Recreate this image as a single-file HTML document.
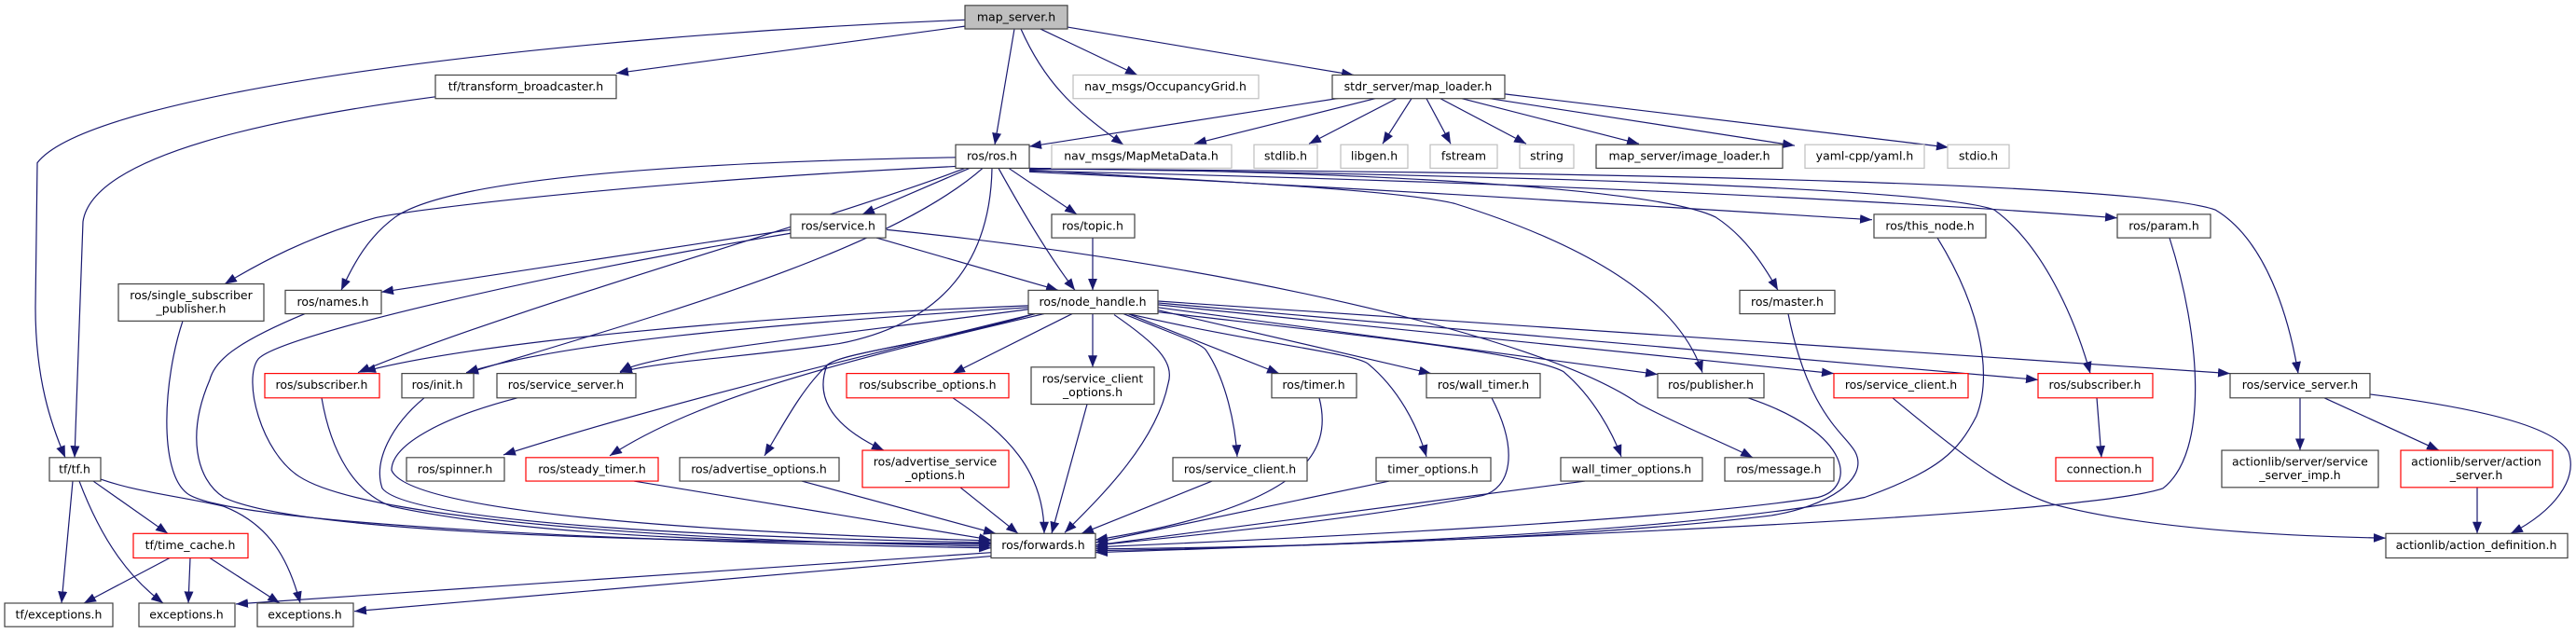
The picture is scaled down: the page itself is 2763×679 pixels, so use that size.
<!DOCTYPE html>
<html><head><meta charset="utf-8"><style>
html,body{margin:0;padding:0;background:#fff;}
svg{display:block;}
text{font-family:"DejaVu Sans","Liberation Sans",sans-serif;font-size:12.5px;fill:#000;}
</style></head><body>
<svg width="2763" height="679" viewBox="0 0 2763 679" xmlns="http://www.w3.org/2000/svg">
<defs>
<marker id="a" markerUnits="userSpaceOnUse" markerWidth="14" markerHeight="10" refX="13" refY="5" orient="auto">
<path d="M0,0 L13,5 L0,10 Z" fill="#191970"/>
</marker>
</defs>
<g transform="scale(1,0.97)">
<g fill="none" stroke="#191970" stroke-width="1.2" marker-end="url(#a)">
<path d="M1035,22 C600,40 100,100 40,180 L38,340 C38,420 55,470 70,506"/>
<path d="M1035,29 L661,81"/>
<path d="M1088,32 L1067,160"/>
<path d="M1095,32 C1120,90 1150,120 1205,160"/>
<path d="M1116,32 L1220,83"/>
<path d="M1145,30 L1452,83"/>
<path d="M467,107 C300,130 100,170 89,245 L80,506"/>
<path d="M1440,108 L1104,162"/>
<path d="M1475,109 L1281,159"/>
<path d="M1498,109 L1404,159"/>
<path d="M1514,109 L1483,159"/>
<path d="M1530,109 L1556,159"/>
<path d="M1545,109 L1637,159"/>
<path d="M1568,109 L1758,159"/>
<path d="M1598,109 L1925,161"/>
<path d="M1614,104 L2090,163"/>
<path d="M1040,186 L925,237"/>
<path d="M1082,186 L1155,237"/>
<path d="M1071,186 C1100,240 1130,290 1153,321"/>
<path d="M1025,174 C700,180 480,200 424,240 C395,262 380,290 366,321"/>
<path d="M1025,184 C700,200 450,230 402,241 C330,262 280,290 241,314"/>
<path d="M1035,186 C900,240 550,340 384,412"/>
<path d="M1054,186 C950,280 700,350 500,413"/>
<path d="M1064,186 C1062,300 1000,360 900,380 C800,395 700,400 665,412"/>
<path d="M1104,188 C1300,200 1500,210 1560,225 C1700,270 1800,330 1826,412"/>
<path d="M1104,186 C1500,190 1780,210 1840,240 C1870,260 1890,290 1907,321"/>
<path d="M1104,190 C1500,210 1800,230 2008,243"/>
<path d="M1104,189 C1600,200 2000,220 2271,241"/>
<path d="M1104,186 C1700,195 2080,210 2139,232 C2190,270 2225,350 2242,413"/>
<path d="M1104,187 C1800,190 2300,205 2376,232 C2430,265 2455,350 2465,413"/>
<path d="M848,254 L409,323"/>
<path d="M940,263 L1135,321"/>
<path d="M848,258 C600,300 300,370 277,397 C260,420 280,500 321,527 C400,580 800,600 1063,604"/>
<path d="M951,254 C1300,290 1650,370 1757,446 C1800,470 1850,490 1880,506"/>
<path d="M1172,263 L1172,321"/>
<path d="M1103,338 C800,350 500,380 390,411"/>
<path d="M1103,340 C800,360 600,380 500,412"/>
<path d="M1103,342 C900,370 700,390 665,411"/>
<path d="M1110,347 C900,400 700,450 540,503"/>
<path d="M1120,347 C900,400 750,440 654,504"/>
<path d="M1110,347 C1000,380 900,390 887,404 C860,430 840,470 820,504"/>
<path d="M1110,347 C1000,380 900,390 887,404 C870,450 910,480 948,498"/>
<path d="M1150,347 L1022,413"/>
<path d="M1172,347 L1172,406"/>
<path d="M1195,348 C1240,380 1260,400 1253,424 C1240,490 1180,550 1142,589"/>
<path d="M1205,347 C1260,370 1290,380 1294,388 C1315,420 1325,470 1327,505"/>
<path d="M1210,347 L1372,413"/>
<path d="M1210,347 C1350,380 1450,390 1467,402 C1500,430 1520,470 1530,505"/>
<path d="M1242,343 L1535,413"/>
<path d="M1242,345 C1450,370 1640,390 1677,411 C1710,440 1730,480 1739,505"/>
<path d="M1242,340 L1778,414"/>
<path d="M1242,337 L1967,413"/>
<path d="M1242,335 L2186,420"/>
<path d="M1242,333 L2392,413"/>
<path d="M345,440 C355,500 380,545 420,560 C600,600 900,600 1063,602"/>
<path d="M455,440 C420,470 400,510 410,540 C440,580 800,595 1063,600"/>
<path d="M555,440 C480,460 420,490 420,520 C440,570 800,590 1063,598"/>
<path d="M196,355 C175,420 170,520 200,545 C240,580 700,600 1063,606"/>
<path d="M327,347 C250,380 230,400 225,420 C200,480 210,530 240,550 C320,590 700,600 1063,601"/>
<path d="M680,532 L1063,597"/>
<path d="M860,532 L1068,590"/>
<path d="M1030,539 L1092,590"/>
<path d="M1022,440 C1080,480 1120,520 1120,590"/>
<path d="M1166,447 L1128,590"/>
<path d="M1300,532 L1160,590"/>
<path d="M1415,440 C1430,500 1400,560 1175,597"/>
<path d="M1490,532 L1175,600"/>
<path d="M1600,440 C1630,500 1620,540 1590,548 C1450,575 1300,590 1175,603"/>
<path d="M1700,532 L1175,603"/>
<path d="M1875,440 C1990,480 1990,540 1950,550 C1800,575 1400,595 1175,605"/>
<path d="M1918,347 C1940,460 1980,480 1990,500 C2005,530 1960,560 1900,570 C1700,595 1400,605 1175,607"/>
<path d="M2078,263 C2130,350 2135,420 2120,460 C2100,500 2080,520 2000,550 C1800,590 1400,605 1175,609"/>
<path d="M2327,263 C2360,370 2370,500 2320,540 C2250,565 1800,590 1175,611"/>
<path d="M2030,440 C2100,500 2150,540 2200,557 C2300,585 2450,593 2559,595"/>
<path d="M2249,440 L2254,506"/>
<path d="M2467,440 L2467,498"/>
<path d="M2493,440 L2616,498"/>
<path d="M2542,436 C2650,450 2740,470 2755,500 C2765,530 2740,565 2693,590"/>
<path d="M2657,539 L2657,590"/>
<path d="M1063,611 L253,668"/>
<path d="M1063,615 L380,676"/>
<path d="M78,532 L66,667"/>
<path d="M85,532 C110,600 140,640 175,667"/>
<path d="M100,532 L180,590"/>
<path d="M108,530 C150,545 200,550 240,560 C290,580 310,620 322,667"/>
<path d="M182,617 L90,667"/>
<path d="M204,617 L202,667"/>
<path d="M225,617 L300,667"/>
</g>
<g stroke-width="1.2">
<rect x="1035" y="6" width="110" height="26" fill="#bfbfbf" stroke="#404040"/>
<rect x="467" y="83" width="194" height="26" fill="#fff" stroke="#404040"/>
<rect x="1151" y="83" width="199" height="26" fill="#fff" stroke="#bfbfbf"/>
<rect x="1429" y="83" width="185" height="26" fill="#fff" stroke="#404040"/>
<rect x="1025" y="160" width="79" height="26" fill="#fff" stroke="#404040"/>
<rect x="1128" y="160" width="193" height="26" fill="#fff" stroke="#bfbfbf"/>
<rect x="1345" y="160" width="68" height="26" fill="#fff" stroke="#bfbfbf"/>
<rect x="1438" y="160" width="72" height="26" fill="#fff" stroke="#bfbfbf"/>
<rect x="1534" y="160" width="72" height="26" fill="#fff" stroke="#bfbfbf"/>
<rect x="1630" y="160" width="58" height="26" fill="#fff" stroke="#bfbfbf"/>
<rect x="1712" y="160" width="200" height="26" fill="#fff" stroke="#404040"/>
<rect x="1936" y="160" width="128" height="26" fill="#fff" stroke="#bfbfbf"/>
<rect x="2089" y="160" width="66" height="26" fill="#fff" stroke="#bfbfbf"/>
<rect x="848" y="237" width="102" height="26" fill="#fff" stroke="#404040"/>
<rect x="1128" y="237" width="89" height="26" fill="#fff" stroke="#404040"/>
<rect x="2010" y="237" width="120" height="26" fill="#fff" stroke="#404040"/>
<rect x="2271" y="237" width="100" height="26" fill="#fff" stroke="#404040"/>
<rect x="127" y="314" width="156" height="41" fill="#fff" stroke="#404040"/>
<rect x="306" y="321" width="103" height="26" fill="#fff" stroke="#404040"/>
<rect x="1103" y="321" width="139" height="26" fill="#fff" stroke="#404040"/>
<rect x="1866" y="321" width="102" height="26" fill="#fff" stroke="#404040"/>
<rect x="284" y="413" width="123" height="27" fill="#fff" stroke="#ff0000"/>
<rect x="431" y="413" width="77" height="27" fill="#fff" stroke="#404040"/>
<rect x="533" y="413" width="149" height="27" fill="#fff" stroke="#404040"/>
<rect x="908" y="413" width="174" height="27" fill="#fff" stroke="#ff0000"/>
<rect x="1106" y="406" width="132" height="41" fill="#fff" stroke="#404040"/>
<rect x="1364" y="413" width="91" height="27" fill="#fff" stroke="#404040"/>
<rect x="1530" y="413" width="122" height="27" fill="#fff" stroke="#404040"/>
<rect x="1778" y="413" width="114" height="27" fill="#fff" stroke="#404040"/>
<rect x="1967" y="413" width="144" height="27" fill="#fff" stroke="#ff0000"/>
<rect x="2186" y="413" width="123" height="27" fill="#fff" stroke="#ff0000"/>
<rect x="2392" y="413" width="150" height="27" fill="#fff" stroke="#404040"/>
<rect x="53" y="506" width="55" height="26" fill="#fff" stroke="#404040"/>
<rect x="436" y="506" width="105" height="26" fill="#fff" stroke="#404040"/>
<rect x="564" y="506" width="142" height="26" fill="#fff" stroke="#ff0000"/>
<rect x="729" y="506" width="171" height="26" fill="#fff" stroke="#404040"/>
<rect x="925" y="498" width="157" height="41" fill="#fff" stroke="#ff0000"/>
<rect x="1258" y="506" width="144" height="26" fill="#fff" stroke="#404040"/>
<rect x="1476" y="506" width="123" height="26" fill="#fff" stroke="#404040"/>
<rect x="1674" y="506" width="152" height="26" fill="#fff" stroke="#404040"/>
<rect x="1850" y="506" width="117" height="26" fill="#fff" stroke="#404040"/>
<rect x="2205" y="506" width="104" height="26" fill="#fff" stroke="#ff0000"/>
<rect x="2383" y="498" width="168" height="41" fill="#fff" stroke="#404040"/>
<rect x="2575" y="498" width="163" height="41" fill="#fff" stroke="#ff0000"/>
<rect x="143" y="590" width="123" height="27" fill="#fff" stroke="#ff0000"/>
<rect x="1063" y="590" width="112" height="27" fill="#fff" stroke="#404040"/>
<rect x="2559" y="590" width="195" height="27" fill="#fff" stroke="#404040"/>
<rect x="5" y="667" width="116" height="26" fill="#fff" stroke="#404040"/>
<rect x="149" y="667" width="103" height="26" fill="#fff" stroke="#404040"/>
<rect x="276" y="667" width="103" height="26" fill="#fff" stroke="#404040"/>
</g>
<g text-anchor="middle">
<text x="1090" y="23">map_server.h</text>
<text x="564" y="100">tf/transform_broadcaster.h</text>
<text x="1250" y="100">nav_msgs/OccupancyGrid.h</text>
<text x="1521" y="100">stdr_server/map_loader.h</text>
<text x="1064" y="177">ros/ros.h</text>
<text x="1224" y="177">nav_msgs/MapMetaData.h</text>
<text x="1379" y="177">stdlib.h</text>
<text x="1474" y="177">libgen.h</text>
<text x="1570" y="177">fstream</text>
<text x="1659" y="177">string</text>
<text x="1812" y="177">map_server/image_loader.h</text>
<text x="2000" y="177">yaml-cpp/yaml.h</text>
<text x="2122" y="177">stdio.h</text>
<text x="899" y="254">ros/service.h</text>
<text x="1172" y="254">ros/topic.h</text>
<text x="2070" y="254">ros/this_node.h</text>
<text x="2321" y="254">ros/param.h</text>
<text x="205" y="331">ros/single_subscriber</text>
<text x="205" y="346">_publisher.h</text>
<text x="357" y="338">ros/names.h</text>
<text x="1172" y="338">ros/node_handle.h</text>
<text x="1917" y="338">ros/master.h</text>
<text x="345" y="430">ros/subscriber.h</text>
<text x="469" y="430">ros/init.h</text>
<text x="607" y="430">ros/service_server.h</text>
<text x="995" y="430">ros/subscribe_options.h</text>
<text x="1172" y="423">ros/service_client</text>
<text x="1172" y="438">_options.h</text>
<text x="1409" y="430">ros/timer.h</text>
<text x="1591" y="430">ros/wall_timer.h</text>
<text x="1835" y="430">ros/publisher.h</text>
<text x="2039" y="430">ros/service_client.h</text>
<text x="2247" y="430">ros/subscriber.h</text>
<text x="2467" y="430">ros/service_server.h</text>
<text x="80" y="523">tf/tf.h</text>
<text x="488" y="523">ros/spinner.h</text>
<text x="635" y="523">ros/steady_timer.h</text>
<text x="814" y="523">ros/advertise_options.h</text>
<text x="1003" y="515">ros/advertise_service</text>
<text x="1003" y="530">_options.h</text>
<text x="1330" y="523">ros/service_client.h</text>
<text x="1537" y="523">timer_options.h</text>
<text x="1750" y="523">wall_timer_options.h</text>
<text x="1908" y="523">ros/message.h</text>
<text x="2257" y="523">connection.h</text>
<text x="2467" y="515">actionlib/server/service</text>
<text x="2467" y="530">_server_imp.h</text>
<text x="2656" y="515">actionlib/server/action</text>
<text x="2656" y="530">_server.h</text>
<text x="204" y="607">tf/time_cache.h</text>
<text x="1119" y="607">ros/forwards.h</text>
<text x="2656" y="607">actionlib/action_definition.h</text>
<text x="63" y="684">tf/exceptions.h</text>
<text x="200" y="684">exceptions.h</text>
<text x="327" y="684">exceptions.h</text>
</g>
</g>
</svg>
</body></html>
